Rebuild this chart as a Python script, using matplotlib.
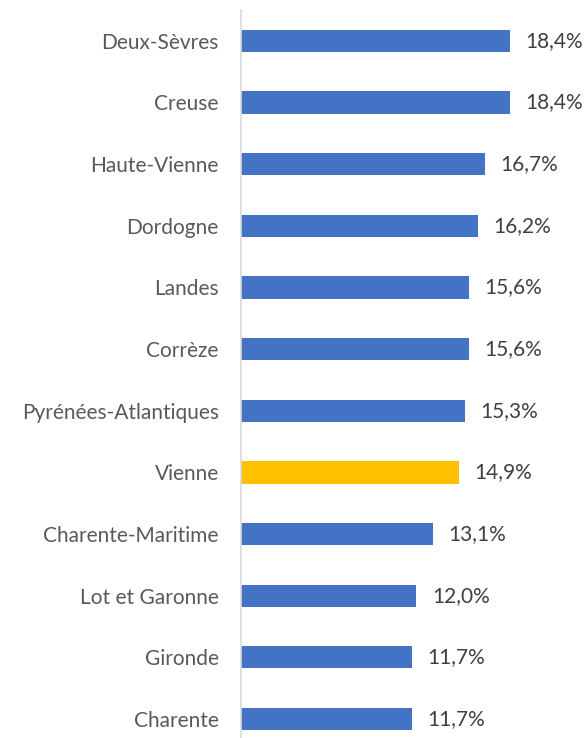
import matplotlib
matplotlib.use("Agg")
import matplotlib.pyplot as plt

# data
departements = ["Deux-Sèvres", "Creuse", "Haute-Vienne", "Dordogne", "Landes", "Corrèze",
                "Pyrénées-Atlantiques", "Vienne", "Charente-Maritime", "Lot et Garonne",
                "Gironde", "Charente"]
taux = [18.4, 18.4, 16.7, 16.2, 15.6, 15.6, 15.3, 14.9, 13.1, 12.0, 11.7, 11.7]
highlight = "Vienne"

blue = "#4472C4"
gold = "#FFC000"

plt.rcParams['font.family'] = ['Lato', 'DejaVu Sans']

fig = plt.figure(figsize=(5.86, 7.38), dpi=100)
ax = fig.add_axes([241 / 586, 0, 1 - 241 / 586, (738 - 10) / 738])

ypos = list(range(len(departements)))
colors = [gold if d == highlight else blue for d in departements]
bars = ax.barh(ypos, taux, height=0.36, color=colors)

for b, v in zip(bars, taux):
    ax.text(b.get_width() + 1.05, b.get_y() + b.get_height() / 2,
            f"{v:.1f}%".replace(".", ","), va="center", ha="left",
            fontsize=15, color="#404040")

ax.set_xlim(0, 345 / 14.62)
ax.set_ylim((738 - 41) / 61.64, -0.5)
ax.set_yticks(ypos)
ax.set_yticklabels(departements, fontsize=15, color="#595959")
ax.tick_params(axis="y", length=0, pad=16)
ax.set_xticks([])
for s in ["top", "right", "bottom"]:
    ax.spines[s].set_visible(False)
ax.spines["left"].set_color("#D9D9D9")
ax.spines["left"].set_linewidth(1.2)

fig.savefig("out.png", dpi=100)
